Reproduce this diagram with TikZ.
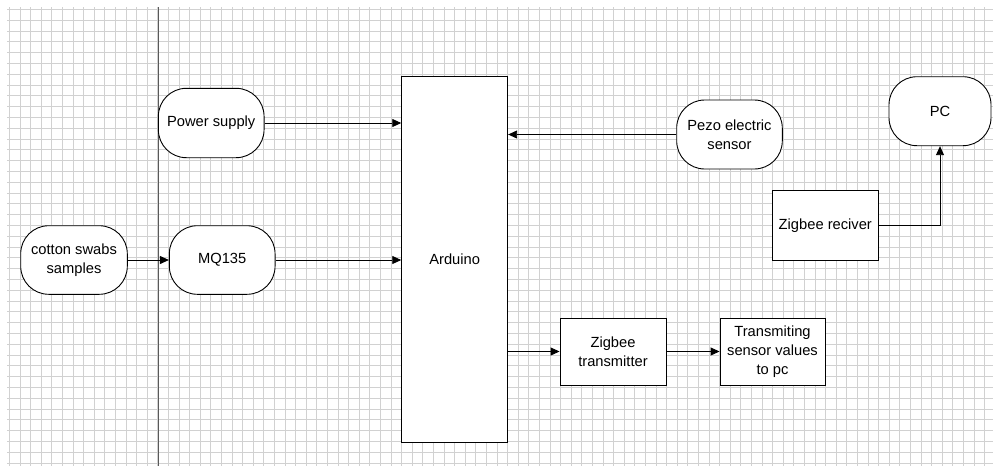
\documentclass[tikz,border=0pt]{standalone}
\usepackage{fontspec}
\setmainfont{Liberation Sans}
\usetikzlibrary{arrows.meta}
\begin{document}
\begin{tikzpicture}[x=1pt,y=-1pt,
  gridline/.style={draw=black!18,line width=0.8pt},
  darkline/.style={draw=black!65,line width=0.8pt},
  blk/.style={draw=black,fill=white,line width=0.9pt,inner sep=0pt,align=center,
    font=\fontsize{14.7}{19}\selectfont},
  rnd/.style={blk,rounded corners=28pt},
  conn/.style={draw=black,line width=0.9pt,-{Triangle[length=9pt,width=8pt]}}]
\useasboundingbox (0,0) rectangle (993,466);
\fill[white] (0,0) rectangle (993,466);
% grid
\foreach \i in {0,...,92} {\draw[gridline] ({9.3+10.6*\i},7) -- ({9.3+10.6*\i},466);}
\foreach \j in {0,...,42} {\draw[gridline] (7,{9.3+10.8*\j}) -- (993,{9.3+10.8*\j});}
\draw[darkline] (158.3,7) -- (158.3,466);
% nodes
\node[rnd,minimum width=105.7pt,minimum height=69.4pt] (ps) at (211.2,123) {Power supply};
\node[rnd,minimum width=105.7pt,minimum height=68.6pt] (mq) at (222.2,260) {MQ135};
\node[rnd,minimum width=106.6pt,minimum height=68.6pt] (cot) at (74,260) {cotton swabs\\samples};
\node[blk,minimum width=106pt,minimum height=366.7pt] (ard) at (454.7,259.4) {Arduino};
\node[rnd,minimum width=105.6pt,minimum height=69pt] (pz) at (729.5,134.5) {Pezo electric\\sensor};
\node[rnd,minimum width=102pt,minimum height=69pt] (pc) at (940,111.2) {PC};
\node[blk,minimum width=106pt,minimum height=69.3pt] (zr) at (825.3,225.3) {Zigbee reciver};
\node[blk,minimum width=106pt,minimum height=67pt] (zt) at (613,351.5) {Zigbee\\transmitter};
\node[blk,minimum width=105pt,minimum height=67pt] (tx) at (772.5,351.5) {Transmiting\\sensor values\\to pc};
% connectors
\draw[conn] (ps.east) -- (ps.east -| ard.west);
\draw[conn] (mq.east) -- (mq.east -| ard.west);
\draw[conn] (cot.east) -- (mq.west);
\draw[conn] (pz.west) -- (pz.west -| ard.east);
\draw[conn] (zt.west -| ard.east) -- (zt.west);
\draw[conn] (zt.east) -- (tx.west);
\draw[conn] (zr.east) -| (pc.south);
\end{tikzpicture}
\end{document}
